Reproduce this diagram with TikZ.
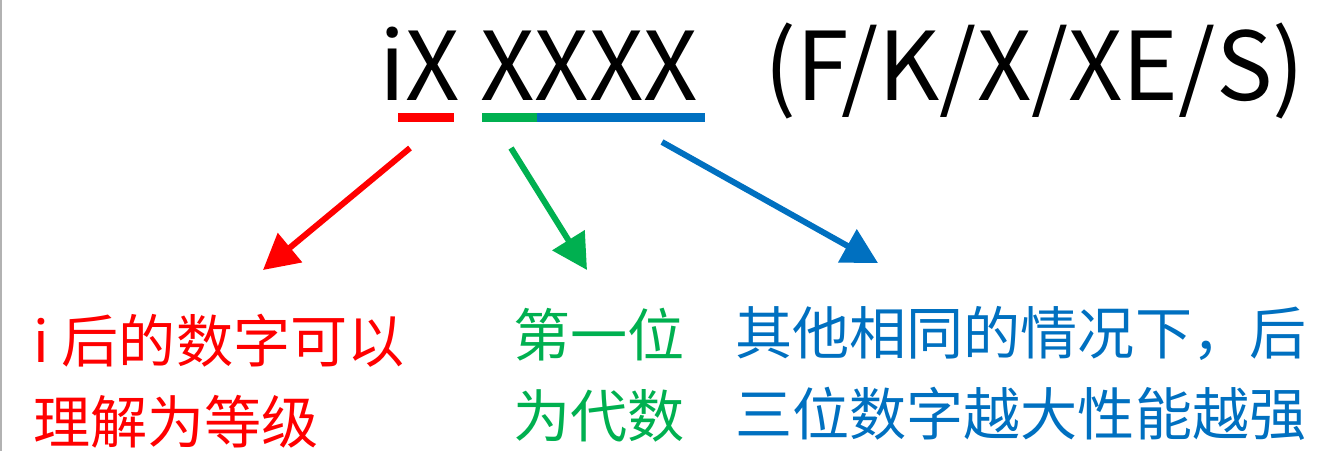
\documentclass[tikz,border=0pt]{standalone}
\usepackage{fontspec}
\setmainfont{Noto Sans CJK SC}
\usetikzlibrary{arrows.meta}

\definecolor{tagred}{RGB}{255,0,0}
\definecolor{taggreen}{RGB}{0,176,80}
\definecolor{tagblue}{RGB}{0,112,192}

\tikzset{
  code/.style={inner sep=0pt, anchor=base west, font=\fontsize{54}{60}\selectfont},
  note/.style={inner sep=0pt, anchor=north west, align=left, font=\fontsize{32.5}{46}\selectfont},
  bar/.style={line width=5.1pt},
  pointer/.style={line width=3.4pt, -{Triangle[length=20pt,width=21pt]}},
}

\begin{document}
\begin{tikzpicture}[x=0.02cm, y=-0.02cm]
  \useasboundingbox (0,0) rectangle (1330,451);
  \draw[gray!60, line width=1.2pt] (1,0) -- (1,451);

  % Top: the model name
  \node[code] (series) at (379,100) {iX};
  \node[code] (model) at (480,100) {XXXX};
  \node[code] (suffix) at (764,100) {(F/K/X/XE/S)};

  % Underlines
  \draw[bar, tagred] (398,117.5) -- (454,117.5);
  \draw[bar, taggreen] (482,117.5) -- (537,117.5);
  \draw[bar, tagblue] (537,117.5) -- (705,117.5);

  % Arrow ends
  \coordinate (gradefrom) at (410,148);
  \coordinate (gradeto) at (263,270);
  \coordinate (genfrom) at (511,148);
  \coordinate (gento) at (587,270);
  \coordinate (perffrom) at (662,142);
  \coordinate (perfto) at (878,263);

  % Notes
  \node[note, text=tagred] (gradenote) at (33,314) {i 后的数字可以\\理解为等级};
  \node[note, text=taggreen] (gennote) at (513,308) {第一位\\为代数};
  \node[note, text=tagblue] (perfnote) at (735,306) {其他相同的情况下，后\\三位数字越大性能越强};

  % Arrows
  \draw[pointer, tagred] (gradefrom) -- (gradeto);
  \draw[pointer, taggreen] (genfrom) -- (gento);
  \draw[pointer, tagblue] (perffrom) -- (perfto);
\end{tikzpicture}
\end{document}
